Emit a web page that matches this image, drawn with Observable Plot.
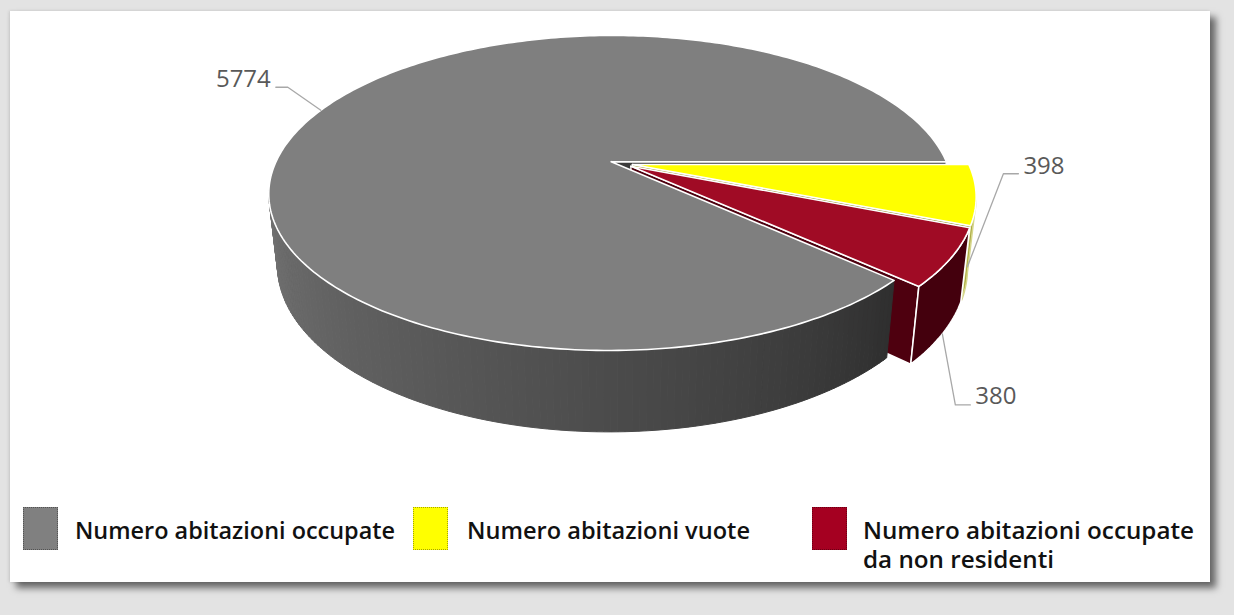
<!DOCTYPE html>
<html>
<head>
<meta charset="utf-8">
<script src="https://cdn.jsdelivr.net/npm/d3@7"></script>
<script src="https://cdn.jsdelivr.net/npm/@observablehq/plot@0.6"></script>
<style>
  html, body { margin:0; padding:0; width:1234px; height:615px; overflow:hidden; background:#e3e3e3; }
  #panel { position:absolute; left:10px; top:11px; width:1200px; height:571px; background:#fff;
           box-shadow: 6px 6px 7px rgba(0,0,0,0.55), -1px 0 3px rgba(0,0,0,0.12); }
  #chart { position:absolute; left:0; top:0; }
  .sw { position:absolute; width:35px; height:43px; box-sizing:border-box; border:1px dotted rgba(0,0,0,0.35); }
  .lt { position:absolute; font-family:"Open Sans", sans-serif; font-weight:600; font-size:23px; line-height:29px;
        color:#111; white-space:nowrap; transform-origin:0 0; }
</style>
</head>
<body>
<div id="panel"></div>
<div id="chart"></div>
<div id="legend"></div>
<script>
// ---------------- data ----------------
const categories = ["Numero abitazioni occupate", "Numero abitazioni vuote", "Numero abitazioni occupate|da non residenti"];
const values = [5774, 398, 380];
const valueLabels = ["5774", "398", "380"];

// ---------------- styles ----------------
const topColors = ["#7f7f7f", "#ffff00", "#a00b25"];
const endWallColors = ["#3c3c3c", "#8e8e1c", "#4e000f"];
const sideColors = ["gradient", "#a6a63c", "#44000d"];
const sideStrokes = ["none", "#d6d68a", "white"];
const legendColors = ["#808080", "#ffff00", "#a50021"];

// ---------------- 3D projection ----------------
const W = 1234, HS = 480, cx = 621, cy = 163;
const k = 336, D = 4.48, alpha = 26.9 * Math.PI / 180;
const sn = Math.sin(alpha), cs = Math.cos(alpha);
const THICK = 0.24, EXPLODE = 0.033;
const rad = Math.PI / 180;
function proj(x, h, z) {
  const depth = D - h * sn - z * cs;
  return {x: D * x / depth, y: D * (h * cs - z * sn) / depth};
}

const total = d3.sum(values);
let acc = -360 * values[0] / total;
const slices = values.map((v, i) => {
  const a0 = acc; acc += 360 * v / total;
  return {i, a0, a1: acc, mid: (a0 + acc) / 2};
});

function pointFn(sl) {
  const m = sl.mid * rad;
  const ox = EXPLODE * Math.cos(m), oz = EXPLODE * Math.sin(m);
  return (deg, h, r = 1) => proj(ox + r * Math.cos(deg * rad), h, oz + r * Math.sin(deg * rad));
}
function arc(from, to, h, P) {
  const n = Math.max(2, Math.ceil(Math.abs(to - from)));
  return d3.range(n + 1).map(j => P(from + (to - from) * j / n, h));
}

const thr = 1 / (D * cs);
const fr0 = Math.asin(thr) / rad, fr1 = 180 - fr0;

const quadRows = [];   // gradient side strips
const wallRows = [];   // radial walls
const faceRows = [];   // curved walls & tops (outlined)
let fid = 0;
function addFace(pts, fill, rows, stroke) {
  const id = fid++;
  [...pts, pts[0]].forEach(p => rows.push({face: id, x: p.x, y: p.y, fill, stroke: stroke || "white"}));
}
const grayShade = d3.interpolateRgb("#2e2e2e", "#707070");

// radial walls (drawn first: hidden behind the curved sides and tops)
slices.forEach(sl => {
  const P = pointFn(sl);
  if (Math.cos(sl.a1 * rad) > 0)
    addFace([P(sl.a1, 0, 0), P(sl.a1, 0), P(sl.a1, -THICK), P(sl.a1, -THICK, 0)], endWallColors[sl.i], wallRows);
  if (Math.cos(sl.a0 * rad) < 0)
    addFace([P(sl.a0, 0, 0), P(sl.a0, 0), P(sl.a0, -THICK), P(sl.a0, -THICK, 0)], endWallColors[sl.i], wallRows);
});
// curved outer walls
slices.forEach(sl => {
  const P = pointFn(sl);
  let a0 = sl.a0, a1 = sl.a1;
  if (a0 < 0) { a0 += 360; a1 += 360; }
  if (sideColors[sl.i] === "gradient") {
    const v0 = Math.max(a0, fr0 - 3), v1 = Math.min(a1, fr1 + 4);
    for (let d = v0; d < v1; d += 1) {
      const e = Math.min(d + 1, v1);
      const t = Math.max(0, Math.min(1, ((d + e) / 2 - a0) / (fr1 - a0)));
      const col = grayShade(Math.pow(t, 0.85));
      addFace([P(d, 0), P(e, 0), P(e, -THICK), P(d, -THICK)], col, quadRows, col);
    }
  } else {
    const v0 = Math.max(a0, fr0 - 1.5), v1 = Math.min(a1, fr1);
    if (v1 > v0) addFace([...arc(v0, v1, 0, P), ...arc(v1, v0, -THICK, P)], sideColors[sl.i], faceRows, sideStrokes[sl.i]);
  }
});
// tops
slices.forEach(sl => {
  const P = pointFn(sl);
  addFace([P(sl.a0, 0, 0), ...arc(sl.a0, sl.a1, 0, P)], topColors[sl.i], faceRows);
});

// labels & leaders
const leaderAt = [0, -THICK, -THICK];
const elbowPx = [[-33, -23], [36, -93], [13, 71]];
const tailPx = [-12, 15, 15];
const textDy = [-8, -7, -9];
const leaderRows = [], labelRows = [];
slices.forEach(sl => {
  const P = pointFn(sl);
  const a = P(sl.mid, leaderAt[sl.i]);
  const el = {x: a.x + elbowPx[sl.i][0] / k, y: a.y - elbowPx[sl.i][1] / k};
  const tl = {x: el.x + tailPx[sl.i] / k, y: el.y};
  [a, el, tl].forEach(p => leaderRows.push({id: sl.i, x: p.x, y: p.y}));
  labelRows.push({x: tl.x + Math.sign(tailPx[sl.i]) * 5 / k, y: tl.y, text: valueLabels[sl.i], i: sl.i});
});
const labelMark = (i, anchor) => Plot.text(labelRows.filter(d => d.i === i), {
  x: "x", y: "y", text: "text", textAnchor: anchor, dy: textDy[i],
  fontSize: 24, fontFamily: "Open Sans", fill: "#595959"});

const plot = Plot.plot({
  width: W, height: HS, margin: 0,
  x: {domain: [-cx / k, (W - cx) / k], range: [0, W], axis: null},
  y: {domain: [(cy - HS) / k, cy / k], range: [HS, 0], axis: null},
  color: {type: "identity"},
  style: {background: "transparent", overflow: "visible"},
  marks: [
    Plot.line(wallRows, {x: "x", y: "y", z: "face", fill: "fill", stroke: "stroke", strokeWidth: 1.4, strokeLinejoin: "round", curve: "linear"}),
    Plot.line(quadRows, {x: "x", y: "y", z: "face", fill: "fill", stroke: "stroke", strokeWidth: 1, curve: "linear"}),
    Plot.line(faceRows, {x: "x", y: "y", z: "face", fill: "fill", stroke: "stroke", strokeWidth: 1.6, strokeLinejoin: "round", curve: "linear"}),
    Plot.line(leaderRows, {x: "x", y: "y", z: "id", stroke: "#a8a8a8", strokeWidth: 1.3, curve: "linear"}),
    labelMark(0, "end"), labelMark(1, "start"), labelMark(2, "start")
  ]
});
document.getElementById("chart").appendChild(plot);

// legend (HTML, below the pie)
const swLeft = [23, 413, 812], txtLeft = [75, 467, 863], txtW = [320, 283, 331];
const legend = d3.select("#legend");
const ctx = document.createElement("canvas").getContext("2d");
ctx.font = '600 23px "Open Sans"';
categories.forEach((c, i) => {
  legend.append("div").attr("class", "sw")
    .style("left", swLeft[i] + "px").style("top", "507px").style("background", legendColors[i]);
  const lines = c.split("|");
  const w = ctx.measureText(lines[0]).width;
  legend.append("div").attr("class", "lt")
    .style("left", txtLeft[i] + "px").style("top", "516px")
    .style("transform", `scaleX(${txtW[i] / w})`)
    .html(lines.join("<br>"));
});
</script>
</body>
</html>
